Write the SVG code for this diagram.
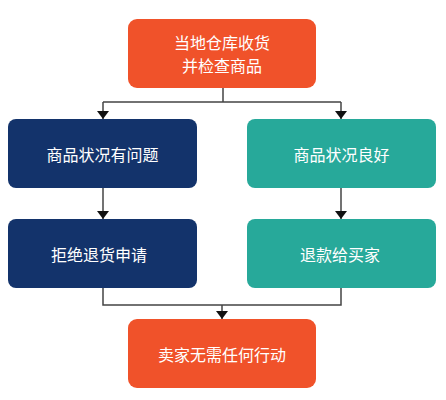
<svg xmlns="http://www.w3.org/2000/svg" width="446" height="400" viewBox="0 0 446 400">
<defs>
<style>
.t{font-family:"Noto Sans CJK SC","Noto Sans",sans-serif;font-size:16px;fill:#ffffff;text-anchor:middle;dominant-baseline:central}
.c{fill:none;stroke:#444444;stroke-width:1.5}
.o{fill:#F0522A}
.n{fill:#13336B}
.g{fill:#27A99A}
</style>
<marker id="ah" viewBox="0 0 8 12" refX="8" refY="6" markerWidth="8" markerHeight="12" markerUnits="userSpaceOnUse" orient="auto">
<path d="M0,0 L8,6 L0,12 Z" fill="#111111"/>
</marker>
</defs>
<rect width="446" height="400" fill="#ffffff"/>
<g id="connectors">
<path class="c" d="M223,88 V102 M103,102 H341"/>
<path class="c" d="M103,102 V119" marker-end="url(#ah)"/>
<path class="c" d="M341,102 V119" marker-end="url(#ah)"/>
<path class="c" d="M103,188 V219" marker-end="url(#ah)"/>
<path class="c" d="M341,188 V219" marker-end="url(#ah)"/>
<path class="c" d="M103,288 V305 H341 V288"/>
<path class="c" d="M222,305 V319" marker-end="url(#ah)"/>
</g>
<g id="n1"><rect class="o" x="128" y="19" width="188" height="69" rx="9"/><text class="t" x="222" y="42">当地仓库收货</text><text class="t" x="222" y="65">并检查商品</text></g>
<g id="n2"><rect class="n" x="8" y="119" width="189" height="69" rx="8"/><text class="t" x="102.5" y="154">商品状况有问题</text></g>
<g id="n3"><rect class="g" x="247" y="119" width="189" height="69" rx="8"/><text class="t" x="341.5" y="154">商品状况良好</text></g>
<g id="n4"><rect class="n" x="8" y="219" width="189" height="69" rx="8"/><text class="t" x="99" y="254">拒绝退货申请</text></g>
<g id="n5"><rect class="g" x="247" y="219" width="189" height="69" rx="8"/><text class="t" x="340" y="254">退款给买家</text></g>
<g id="n6"><rect class="o" x="128" y="319" width="188" height="69" rx="9"/><text class="t" x="222" y="354">卖家无需任何行动</text></g>
</svg>
